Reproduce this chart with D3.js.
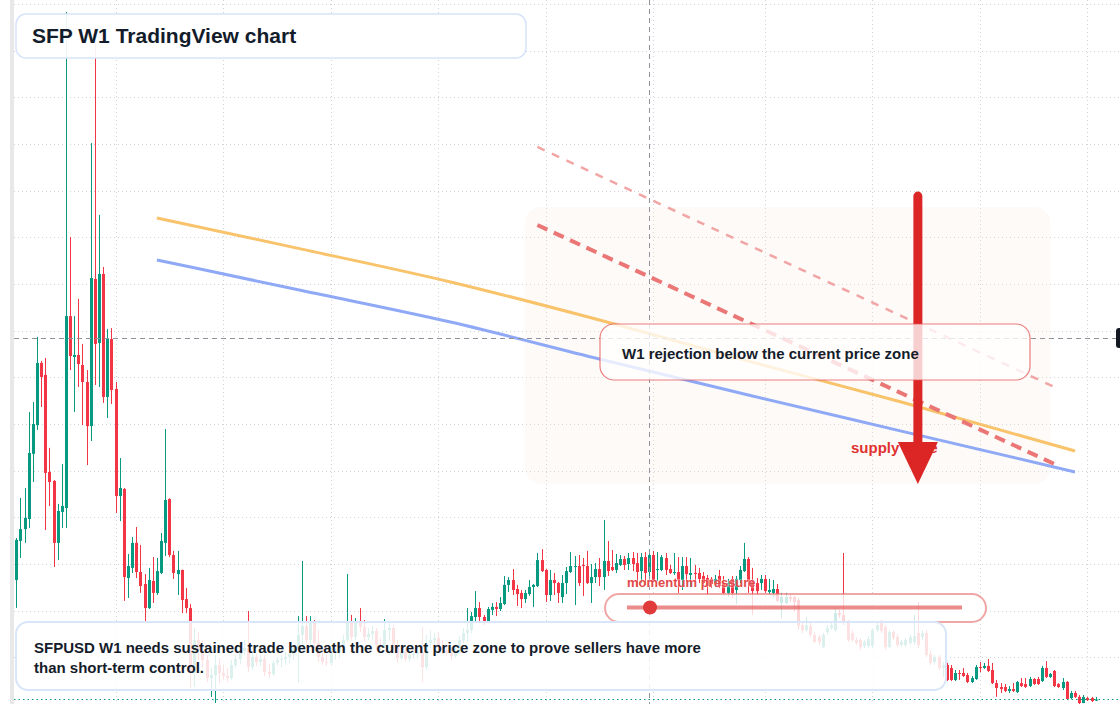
<!DOCTYPE html>
<html>
<head>
<meta charset="utf-8">
<script src="https://cdn.jsdelivr.net/npm/d3@7"></script>
<style>
  html, body { margin: 0; padding: 0; background: #fff; }
  svg { display: block; font-family: "Liberation Sans", Arial, sans-serif; }
</style>
</head>
<body>
<svg id="chart" width="1120" height="704"></svg>
<script>
// SFPUSD weekly candles
const opens = [0.914,1.124,1.187,1.241,1.590,1.744,2.077,2.013,1.493,1.445,1.113,1.279,1.300,2.328,2.109,2.120,2.066,1.975,1.739,2.527,2.184,2.554,1.895,2.205,1.938,1.364,1.402,0.925,0.979,1.113,0.957,0.893,0.764,0.909,0.845,0.952,1.113,1.348,1.048,0.946,0.968,0.812,0.764,0.416,0.593,0.539,0.486,0.389,0.405,0.459,0.416,0.400,0.389,0.459,0.491,0.534,0.550,0.448,0.502,0.475,0.491,0.421,0.411,0.470,0.486,0.491,0.502,0.518,0.550,0.620,0.668,0.593,0.689,0.577,0.502,0.475,0.470,0.523,0.529,0.555,0.593,0.689,0.609,0.689,0.663,0.609,0.625,0.641,0.566,0.561,0.646,0.657,0.555,0.496,0.529,0.491,0.512,0.518,0.529,0.448,0.577,0.593,0.604,0.555,0.539,0.523,0.507,0.529,0.593,0.630,0.646,0.716,0.764,0.716,0.689,0.754,0.770,0.759,0.786,0.888,0.914,0.866,0.845,0.812,0.839,0.877,0.882,1.021,0.968,0.834,0.914,0.898,0.823,0.898,0.957,0.984,0.989,0.995,0.989,0.898,0.930,0.973,0.930,1.016,0.984,0.968,0.995,1.027,1.000,1.032,1.005,0.962,1.037,0.957,1.048,0.968,0.968,1.032,0.973,0.952,0.957,0.914,0.989,0.941,0.952,0.952,0.936,0.925,0.920,0.898,0.936,0.898,0.845,0.920,0.861,0.914,0.962,1.027,0.904,0.898,0.898,0.920,0.850,0.845,0.866,0.791,0.791,0.823,0.823,0.807,0.673,0.646,0.668,0.620,0.609,0.555,0.636,0.657,0.646,0.737,0.727,0.689,0.630,0.593,0.593,0.561,0.561,0.561,0.646,0.684,0.663,0.555,0.636,0.609,0.566,0.566,0.577,0.582,0.630,0.609,0.630,0.518,0.475,0.502,0.443,0.459,0.443,0.379,0.416,0.416,0.405,0.368,0.384,0.448,0.443,0.454,0.432,0.362,0.341,0.341,0.320,0.330,0.314,0.362,0.357,0.346,0.384,0.384,0.373,0.443,0.395,0.427,0.357,0.336,0.368,0.282,0.309,0.288,0.255,0.282,0.282,0.268];
const highs = [1.139,1.354,1.407,1.814,1.868,2.216,2.088,2.104,1.622,1.450,1.322,1.536,3.957,2.752,2.328,2.420,2.179,2.039,3.255,3.807,2.870,2.591,2.259,2.264,1.975,1.568,1.407,1.054,1.145,1.198,1.102,0.946,0.979,1.037,1.032,1.166,1.723,1.352,1.070,1.070,0.970,0.871,0.786,0.657,0.636,0.593,0.512,0.443,0.512,0.496,0.459,0.443,0.486,0.512,0.566,0.593,0.748,0.529,0.518,0.512,0.512,0.464,0.486,0.502,0.512,0.529,0.539,0.566,0.721,1.016,0.721,0.721,0.700,0.646,0.539,0.512,0.550,0.550,0.577,0.620,0.946,0.727,0.711,0.764,0.700,0.657,0.668,0.657,0.604,0.705,0.679,0.673,0.593,0.550,0.550,0.539,0.534,0.550,0.663,0.620,0.646,0.630,0.636,0.593,0.566,0.550,0.550,0.614,0.657,0.764,0.743,0.855,0.796,0.727,0.770,0.791,0.796,0.823,0.936,0.930,0.973,0.888,0.861,0.861,0.914,0.893,1.059,1.080,0.973,0.968,0.952,0.904,0.941,0.984,1.064,1.043,1.048,1.032,1.070,1.000,1.005,1.032,1.236,1.123,1.075,1.054,1.048,1.043,1.059,1.064,1.059,1.059,1.064,1.075,1.070,1.064,1.048,1.059,0.995,1.059,1.037,1.037,1.037,1.032,0.995,0.979,0.957,0.941,0.930,0.941,0.968,0.936,0.920,0.936,0.936,0.989,1.113,1.037,0.979,0.925,0.941,0.941,0.920,0.914,0.893,0.845,0.845,0.839,0.829,0.818,0.689,0.716,0.689,0.636,0.620,0.630,0.673,0.689,0.770,0.754,1.059,0.700,0.646,0.609,0.604,0.593,0.614,0.657,0.689,0.700,0.673,0.646,0.646,0.625,0.593,0.604,0.620,0.727,0.796,0.646,0.646,0.539,0.512,0.512,0.475,0.470,0.459,0.432,0.432,0.443,0.416,0.400,0.459,0.475,0.470,0.491,0.470,0.379,0.362,0.357,0.346,0.362,0.373,0.389,0.389,0.395,0.389,0.395,0.454,0.480,0.416,0.432,0.362,0.389,0.373,0.320,0.320,0.298,0.298,0.288,0.288,0.288];
const lows = [0.765,1.032,1.113,1.193,1.439,1.718,1.841,1.182,1.310,0.984,1.021,1.193,1.193,2.039,1.814,1.948,1.744,1.530,1.659,1.959,1.948,1.863,1.782,1.857,1.273,1.230,0.802,0.818,0.952,0.925,0.845,0.689,0.759,0.791,0.834,0.946,1.043,1.037,0.920,0.834,0.737,0.737,0.336,0.341,0.486,0.443,0.368,0.288,0.255,0.362,0.379,0.368,0.379,0.443,0.464,0.512,0.421,0.432,0.454,0.454,0.400,0.389,0.400,0.459,0.448,0.459,0.470,0.486,0.362,0.550,0.550,0.566,0.550,0.475,0.459,0.454,0.454,0.486,0.496,0.534,0.582,0.593,0.593,0.636,0.582,0.593,0.593,0.539,0.539,0.550,0.593,0.539,0.470,0.486,0.475,0.475,0.491,0.496,0.368,0.432,0.550,0.561,0.539,0.518,0.507,0.486,0.496,0.518,0.577,0.582,0.630,0.689,0.689,0.673,0.684,0.727,0.721,0.748,0.780,0.850,0.834,0.775,0.764,0.791,0.829,0.770,0.877,0.957,0.796,0.802,0.834,0.791,0.791,0.839,0.952,0.780,0.882,0.829,0.893,0.791,0.898,0.882,0.861,0.936,0.962,0.952,0.989,0.968,0.968,0.962,0.877,0.898,0.888,0.925,0.904,0.909,0.962,0.941,0.946,0.941,0.845,0.861,0.904,0.877,0.898,0.898,0.893,0.834,0.871,0.877,0.871,0.839,0.823,0.818,0.786,0.898,0.957,0.845,0.727,0.834,0.861,0.845,0.839,0.823,0.796,0.711,0.786,0.796,0.743,0.646,0.630,0.636,0.609,0.577,0.566,0.550,0.620,0.646,0.636,0.711,0.673,0.582,0.582,0.566,0.539,0.550,0.550,0.550,0.636,0.630,0.539,0.550,0.593,0.555,0.555,0.555,0.566,0.566,0.550,0.593,0.502,0.459,0.459,0.432,0.395,0.373,0.373,0.373,0.379,0.395,0.362,0.362,0.379,0.421,0.438,0.421,0.357,0.288,0.309,0.314,0.309,0.314,0.309,0.341,0.336,0.341,0.352,0.352,0.368,0.389,0.389,0.341,0.336,0.325,0.271,0.277,0.282,0.250,0.255,0.266,0.261,0.266];
const closes = [1.129,1.187,1.247,1.595,1.750,2.077,2.002,1.488,1.439,1.113,1.284,1.311,2.328,2.114,2.120,2.071,1.975,1.739,2.532,2.179,2.554,1.895,2.205,1.932,1.364,1.407,0.930,0.989,1.113,0.957,0.882,0.764,0.914,0.845,0.962,1.123,1.343,1.048,0.952,0.968,0.807,0.764,0.416,0.593,0.539,0.486,0.389,0.405,0.459,0.416,0.400,0.389,0.459,0.491,0.534,0.550,0.448,0.502,0.475,0.491,0.421,0.411,0.470,0.486,0.491,0.502,0.518,0.550,0.620,0.668,0.593,0.689,0.577,0.502,0.475,0.470,0.523,0.529,0.555,0.593,0.689,0.609,0.689,0.663,0.609,0.625,0.641,0.566,0.561,0.646,0.657,0.555,0.496,0.529,0.491,0.512,0.518,0.529,0.448,0.577,0.593,0.604,0.555,0.539,0.523,0.507,0.529,0.593,0.630,0.646,0.721,0.764,0.716,0.689,0.759,0.770,0.759,0.791,0.888,0.914,0.861,0.839,0.812,0.845,0.877,0.888,1.021,0.962,0.834,0.914,0.898,0.845,0.898,0.962,0.989,0.989,0.898,0.989,0.898,0.930,0.973,0.930,1.016,0.962,0.968,1.005,1.027,0.995,1.032,1.000,0.957,1.037,0.952,1.048,0.914,0.973,1.037,0.968,0.952,0.957,0.914,0.989,0.946,0.952,0.946,0.920,0.898,0.882,0.893,0.920,0.882,0.845,0.898,0.845,0.920,0.968,1.027,0.904,0.855,0.855,0.920,0.855,0.861,0.866,0.802,0.823,0.823,0.812,0.796,0.668,0.646,0.673,0.620,0.582,0.582,0.620,0.657,0.673,0.737,0.727,0.689,0.593,0.593,0.577,0.555,0.582,0.598,0.646,0.673,0.641,0.555,0.636,0.604,0.566,0.582,0.593,0.609,0.614,0.566,0.630,0.512,0.470,0.502,0.443,0.459,0.379,0.379,0.416,0.411,0.400,0.368,0.389,0.448,0.443,0.454,0.427,0.362,0.336,0.330,0.320,0.330,0.320,0.368,0.346,0.341,0.384,0.357,0.357,0.443,0.395,0.411,0.346,0.341,0.368,0.277,0.309,0.288,0.255,0.288,0.271,0.266,0.274];

// chart drawings
const priceGrid = [0.25,0.5,0.75,1.0,1.25,1.5,1.75,2.0,2.25,2.5,2.75,3.0,3.25,3.5,3.75,4.0];
const weekGrid = [24, 50, 76, 102, 128, 154, 181, 207, 233, 259];
const maWeeks = [34, 69, 105, 141, 177, 214, 256];
const maSlow = [2.854, 2.687, 2.511, 2.307, 2.087, 1.868, 1.605];
const maFast = [2.629, 2.465, 2.296, 2.098, 1.905, 1.712, 1.493];
const trendWeeks = [126, 251];
const trendUpper = [3.234, 1.948];
const trendLower = [2.816, 1.536];
const zoneWeeks = [123, 250];
const zonePrices = [2.912, 1.429];
const arrowWeek = 218;
const arrowPrices = [2.971, 1.654, 1.429];
const crossWeek = 153;
const crossPrice = 2.211;

const candles = closes.map((c, i) => ({ i, o: opens[i], h: highs[i], l: lows[i], c }));
const lastPrice = closes[closes.length - 1];

const svg = d3.select("#chart");
const width = +svg.attr("width");
const height = +svg.attr("height");

const x = d3.scaleLinear().domain([0, candles.length - 1]).range([16.3, 1095.7]);
const y = d3.scaleLinear().domain([0.25, 4.0]).range([704, 4]);

const upColor = "#089981";
const downColor = "#f23645";

svg.append("rect").attr("width", width).attr("height", height).attr("fill", "#fff");
svg.append("rect").attr("x", 10).attr("y", 0).attr("width", 4).attr("height", height).attr("fill", "#e8e8e8");

// grid
const grid = svg.append("g").attr("stroke", "#cfd2d8").attr("stroke-dasharray", "1,3");
grid.selectAll("line.h")
  .data(priceGrid)
  .enter()
  .append("line")
  .attr("x1", 14)
  .attr("x2", width)
  .attr("y1", (d) => Math.round(y(d)) + 0.5)
  .attr("y2", (d) => Math.round(y(d)) + 0.5);
grid.selectAll("line.v")
  .data(weekGrid)
  .enter()
  .append("line")
  .attr("x1", (d) => Math.round(x(d)) + 0.5)
  .attr("x2", (d) => Math.round(x(d)) + 0.5)
  .attr("y1", 0)
  .attr("y2", height);

// supply zone
svg.append("rect")
  .attr("x", x(zoneWeeks[0]))
  .attr("y", y(zonePrices[0]))
  .attr("width", x(zoneWeeks[1]) - x(zoneWeeks[0]))
  .attr("height", y(zonePrices[1]) - y(zonePrices[0]))
  .attr("rx", 16)
  .attr("fill", "#f8e9dc")
  .attr("fill-opacity", 0.22);

// candles
const candle = svg.append("g").selectAll("g").data(candles).enter().append("g")
  .attr("fill", (d) => (d.c >= d.o ? upColor : downColor))
  .attr("stroke", (d) => (d.c >= d.o ? upColor : downColor));
candle.append("line")
  .attr("x1", (d) => Math.round(x(d.i)) + 0.5)
  .attr("x2", (d) => Math.round(x(d.i)) + 0.5)
  .attr("y1", (d) => y(d.h))
  .attr("y2", (d) => y(d.l))
  .attr("stroke-width", 1);
candle.append("rect")
  .attr("stroke", "none")
  .attr("x", (d) => Math.round(x(d.i)) - 1)
  .attr("width", 3)
  .attr("y", (d) => y(Math.max(d.o, d.c)))
  .attr("height", (d) => Math.max(1, Math.abs(y(d.o) - y(d.c))));

// last price line
svg.append("line")
  .attr("x1", 14).attr("x2", width)
  .attr("y1", y(lastPrice)).attr("y2", y(lastPrice))
  .attr("stroke", upColor).attr("stroke-width", 1.2).attr("stroke-dasharray", "1.5,3");

// moving averages
const maLine = d3.line().curve(d3.curveMonotoneX).x((d) => x(d[0])).y((d) => y(d[1]));
svg.append("path")
  .attr("d", maLine(maWeeks.map((w, k) => [w, maSlow[k]])))
  .attr("fill", "none").attr("stroke", "#f8c36a").attr("stroke-width", 3);
svg.append("path")
  .attr("d", maLine(maWeeks.map((w, k) => [w, maFast[k]])))
  .attr("fill", "none").attr("stroke", "#8fa9f6").attr("stroke-width", 3);

// trend lines
svg.append("line")
  .attr("x1", x(trendWeeks[0])).attr("y1", y(trendUpper[0]))
  .attr("x2", x(trendWeeks[1])).attr("y2", y(trendUpper[1]))
  .attr("stroke", "#f2a5a5").attr("stroke-width", 2.5).attr("stroke-dasharray", "8,8");
svg.append("line")
  .attr("x1", x(trendWeeks[0])).attr("y1", y(trendLower[0]))
  .attr("x2", x(trendWeeks[1])).attr("y2", y(trendLower[1]))
  .attr("stroke", "#ea7676").attr("stroke-width", 4).attr("stroke-dasharray", "11,7");

// crosshair
const cross = svg.append("g").attr("stroke", "#8f939c").attr("stroke-dasharray", "5,4");
cross.append("line")
  .attr("x1", Math.round(x(crossWeek)) + 0.5).attr("x2", Math.round(x(crossWeek)) + 0.5)
  .attr("y1", 0).attr("y2", height);
cross.append("line")
  .attr("x1", 14).attr("x2", width)
  .attr("y1", Math.round(y(crossPrice)) + 0.5).attr("y2", Math.round(y(crossPrice)) + 0.5);

// supply arrow
svg.append("text")
  .attr("x", 851).attr("y", 453)
  .attr("fill", "#e03131").attr("font-size", 15).attr("font-weight", 600)
  .text("supply zone");
const ax = x(arrowWeek);
svg.append("line")
  .attr("x1", ax).attr("x2", ax)
  .attr("y1", y(arrowPrices[0])).attr("y2", y(arrowPrices[1]) + 2)
  .attr("stroke", "#dc2626").attr("stroke-width", 9).attr("stroke-linecap", "round");
svg.append("path")
  .attr("d", `M${ax - 20},${y(arrowPrices[1])} L${ax + 20},${y(arrowPrices[1])} L${ax},${y(arrowPrices[2])} Z`)
  .attr("fill", "#dc2626");

// annotation
svg.append("rect")
  .attr("x", 600).attr("y", 324).attr("width", 430).attr("height", 56).attr("rx", 14)
  .attr("fill", "#fff").attr("fill-opacity", 0.78)
  .attr("stroke", "#e25555").attr("stroke-opacity", 0.75).attr("stroke-width", 1.2);
svg.append("text")
  .attr("x", 622).attr("y", 359)
  .attr("fill", "#151c2a").attr("font-size", 15).attr("font-weight", 700)
  .text("W1 rejection below the current price zone");

// title
svg.append("rect")
  .attr("x", 16).attr("y", 14).attr("width", 510).attr("height", 44).attr("rx", 10)
  .attr("fill", "#fff").attr("fill-opacity", 0.92)
  .attr("stroke", "#d6e3f8").attr("stroke-width", 1.5);
svg.append("text")
  .attr("x", 32).attr("y", 43)
  .attr("fill", "#131c2b").attr("font-size", 21).attr("font-weight", 700)
  .text("SFP W1 TradingView chart");

// momentum pressure
svg.append("rect")
  .attr("x", 605).attr("y", 594).attr("width", 381).attr("height", 28).attr("rx", 14)
  .attr("fill", "#fff").attr("fill-opacity", 0.8)
  .attr("stroke", "#e86a6a").attr("stroke-opacity", 0.6).attr("stroke-width", 2);
svg.append("line")
  .attr("x1", 627).attr("x2", 962).attr("y1", 607.5).attr("y2", 607.5)
  .attr("stroke", "#e25a5a").attr("stroke-opacity", 0.7).attr("stroke-width", 4);
svg.append("circle")
  .attr("cx", 650).attr("cy", 607.5).attr("r", 7)
  .attr("fill", "#e03a3a");
svg.append("text")
  .attr("x", 627).attr("y", 587)
  .attr("fill", "#e24a4a").attr("font-size", 13).attr("font-weight", 700)
  .attr("stroke", "#fff").attr("stroke-opacity", 0.35).attr("stroke-width", 2).attr("paint-order", "stroke")
  .text("momentum pressure");

// note
svg.append("rect")
  .attr("x", 16).attr("y", 622).attr("width", 930).attr("height", 68).attr("rx", 12)
  .attr("fill", "#fff").attr("fill-opacity", 0.86)
  .attr("stroke", "#d9e5f8").attr("stroke-width", 2);
const note = svg.append("text")
  .attr("fill", "#151c2a").attr("font-size", 15).attr("font-weight", 700);
note.append("tspan").attr("x", 34).attr("y", 653)
  .text("SFPUSD W1 needs sustained trade beneath the current price zone to prove sellers have more");
note.append("tspan").attr("x", 34).attr("y", 673)
  .text("than short-term control.");

// crosshair price label, cut at the edge
svg.append("rect")
  .attr("x", 1116).attr("y", Math.round(y(crossPrice)) - 10).attr("width", 10).attr("height", 20).attr("rx", 3)
  .attr("fill", "#131722");
</script>
</body>
</html>
